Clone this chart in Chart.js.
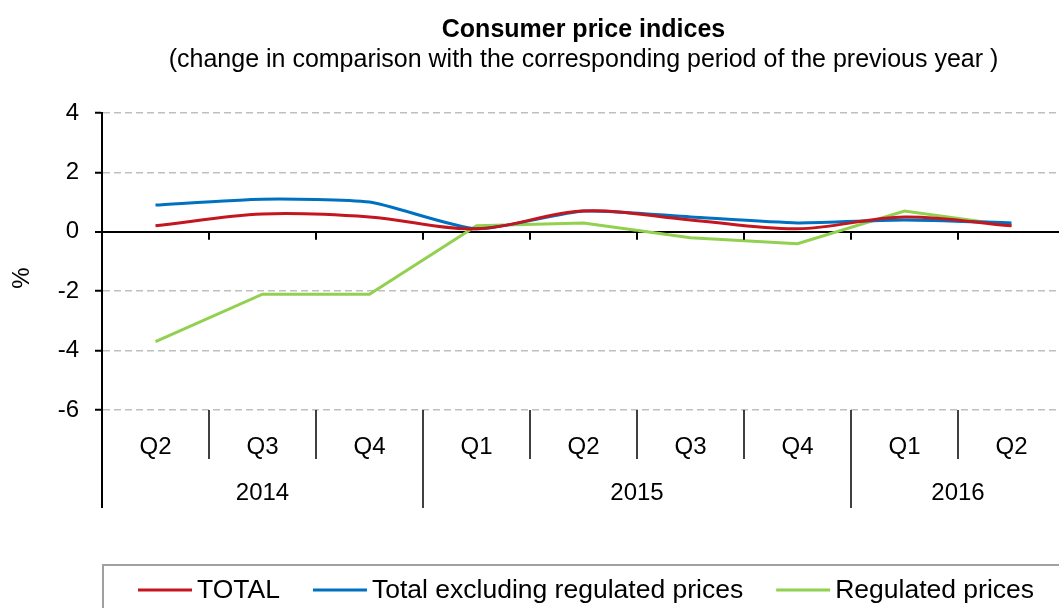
<!DOCTYPE html>
<html><head><meta charset="utf-8">
<script src="https://cdn.jsdelivr.net/npm/chart.js@4/dist/chart.umd.min.js"></script>
<style>
html,body{margin:0;padding:0;background:#fff;overflow:hidden;width:1059px;height:608px}
#wrap{position:relative;width:1075px;height:608px}
</style>
</head><body><div id="wrap"><canvas id="c" width="1075" height="608"></canvas></div>
<script>
const quarters = ['Q2','Q3','Q4','Q1','Q2','Q3','Q4','Q1','Q2'];
const years = ['2014','2015','2016'];
const yearSpans = [3,4,2];
const total = [0.2,0.6,0.5,0.1,0.7,0.4,0.1,0.5,0.2];
const totalExReg = [0.9,1.1,1.0,0.1,0.7,0.5,0.3,0.4,0.3];
const regulated = [-3.7,-2.1,-2.1,0.2,0.3,-0.2,-0.4,0.7,0.2];
const yTicks = [-6,-4,-2,0,2,4];
const seriesNames = ['TOTAL','Total excluding regulated prices','Regulated prices'];
const titleText = 'Consumer price indices';
const subtitleText = '(change in comparison with the corresponding period of the previous year )';
const yAxisTitle = '%';

const FONT = "'Liberation Sans', Arial, sans-serif";

const extras = {
  id:'extras',
  afterDraw(chart){
    const ctx = chart.ctx, ca = chart.chartArea, xs = chart.scales.x, ys = chart.scales.y;
    const w = xs.getPixelForValue(1) - xs.getPixelForValue(0);
    const y0 = ys.getPixelForValue(0);
    const cx = (ca.left + ca.right) / 2;
    ctx.save();
    ctx.strokeStyle = '#000';
    ctx.lineWidth = 2;
    // tick marks on zero line
    for (let i=1;i<=quarters.length;i++){
      const x = Math.round(xs.getPixelForValue(i) - w/2);
      ctx.beginPath(); ctx.moveTo(x, y0); ctx.lineTo(x, y0+8); ctx.stroke();
    }
    // y axis extension below plot
    ctx.beginPath(); ctx.moveTo(ca.left, ca.bottom-1); ctx.lineTo(ca.left, ca.bottom+98); ctx.stroke();
    // separators
    ctx.lineWidth = 1.5;
    const yearBounds = new Set();
    let acc = 0; yearBounds.add(0);
    yearSpans.forEach(s=>{acc+=s; yearBounds.add(acc);});
    for (let i=1;i<=quarters.length;i++){
      const x = Math.round(xs.getPixelForValue(i) - w/2);
      const len = yearBounds.has(i) ? 98 : 49;
      ctx.beginPath(); ctx.moveTo(x, ca.bottom); ctx.lineTo(x, ca.bottom+len); ctx.stroke();
    }
    // quarter labels
    ctx.fillStyle = '#000';
    ctx.textAlign = 'center'; ctx.textBaseline = 'middle';
    ctx.font = '24px ' + FONT;
    quarters.forEach((q,i)=>{ ctx.fillText(q, xs.getPixelForValue(i), ca.bottom+37); });
    // year labels
    let start = 0;
    yearSpans.forEach((s,k)=>{
      const x1 = xs.getPixelForValue(start) - w/2, x2 = xs.getPixelForValue(start+s-1) + w/2;
      ctx.fillText(years[k], (x1+x2)/2, ca.bottom+83);
      start += s;
    });
    // y axis title
    ctx.save();
    ctx.translate(22, 278); ctx.rotate(-Math.PI/2);
    ctx.font = '24px ' + FONT;
    ctx.fillText(yAxisTitle, 0, 0);
    ctx.restore();
    // titles
    ctx.font = 'bold 25px ' + FONT;
    ctx.fillText(titleText, cx, 30);
    ctx.font = '25px ' + FONT;
    ctx.fillText(subtitleText, cx, 60);
    // legend
    ctx.strokeStyle = '#A0A0A0'; ctx.lineWidth = 2;
    ctx.strokeRect(103, 565, 1100, 100);
    ctx.font = '26.5px ' + FONT;
    ctx.textAlign = 'left';
    let lx = 138; const ly = 590;
    chart.data.datasets.forEach(ds=>{
      ctx.strokeStyle = ds.borderColor; ctx.lineWidth = 3;
      ctx.beginPath(); ctx.moveTo(lx, ly); ctx.lineTo(lx+54, ly); ctx.stroke();
      ctx.fillStyle = '#000';
      ctx.fillText(ds.label, lx+59, ly+1);
      lx += 59 + ctx.measureText(ds.label).width + 33;
    });
    ctx.restore();
  }
};

new Chart(document.getElementById('c'), {
  type:'line',
  data:{labels:quarters, datasets:[
    {label:seriesNames[0], data:total, borderColor:'#C3161F', borderWidth:3, tension:0.35, pointRadius:0, fill:false},
    {label:seriesNames[1], data:totalExReg, borderColor:'#0070C0', borderWidth:3, tension:0.2, pointRadius:0, fill:false},
    {label:seriesNames[2], data:regulated, borderColor:'#92D050', borderWidth:3, tension:0, pointRadius:0, fill:false}
  ]},
  options:{
    responsive:false, animation:false,
    layout:{padding:{left:0, top:113, right:10, bottom:198}},
    plugins:{legend:{display:false}, title:{display:false}, tooltip:{enabled:false}},
    scales:{
      x:{display:false, offset:true},
      y:{min:-6, max:4,
        afterBuildTicks: s => { s.ticks = yTicks.map(v=>({value:v})); },
        afterFit: s => { s.width = 102; },
        ticks:{font:{family:FONT, size:24}, color:'#000', padding:16},
        grid:{
          color: c => (c.tick && c.tick.value===0) ? '#000' : '#BFBFBF',
          lineWidth: c => (c.tick && c.tick.value===0) ? 2 : 1.5,
          tickColor:'#000', tickLength:7, tickWidth:2, tickBorderDash:[]
        },
        border:{display:true, color:'#000', width:2, dash: c => (c.tick && c.tick.value===0) ? [] : [7,4]}
      }
    }
  },
  plugins:[extras]
});
</script>
</body></html>
